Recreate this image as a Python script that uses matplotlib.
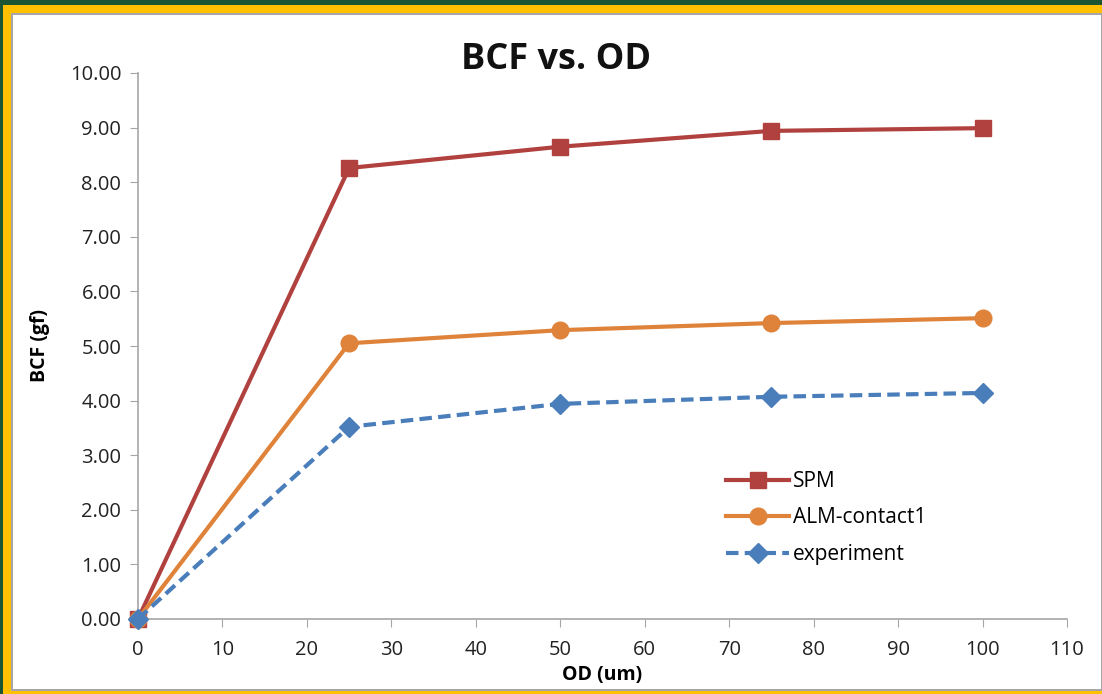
import matplotlib
matplotlib.use('Agg')
import matplotlib.pyplot as plt
from matplotlib.patches import Rectangle
from matplotlib.ticker import FormatStrFormatter

plt.rcParams['font.family'] = ['Open Sans', 'DejaVu Sans']

od = [0, 25, 50, 75, 100]
spm = [0.0, 8.26, 8.65, 8.94, 8.99]
alm = [0.0, 5.05, 5.29, 5.42, 5.51]
experiment = [0.0, 3.52, 3.94, 4.07, 4.14]

fig = plt.figure(figsize=(11.02, 6.94), dpi=100)
W, H = 1102, 694
fig.patch.set_facecolor('#1b5533')
# yellow frame, gray line, white panel
fig.patches.append(Rectangle((3 / W, 0), 1 - 3 / W, 1 - 5 / H, transform=fig.transFigure,
                             facecolor='#ffc000', edgecolor='none', zorder=-3))
fig.patches.append(Rectangle((11 / W, 3 / H), 1 - 11 / W, 1 - 16 / H, transform=fig.transFigure,
                             facecolor='#a6a6a6', edgecolor='none', zorder=-2))
fig.patches.append(Rectangle((13 / W, 5 / H), 1 - 14 / W, 1 - 20 / H, transform=fig.transFigure,
                             facecolor='white', edgecolor='none', zorder=-1))

ax = fig.add_axes([138 / W, 1 - 619 / H, (1067 - 138) / W, (619 - 73) / H])
ax.set_facecolor('none')

ax.plot(od, spm, color='#b0413e', lw=3, marker='s', ms=12, label='SPM', clip_on=False, zorder=3)
ax.plot(od, alm, color='#e0833a', lw=3, marker='o', ms=12, label='ALM-contact1', clip_on=False, zorder=4)
ax.plot(od, experiment, color='#4a7ebb', lw=3, ls=(0, (3, 1.5)), marker='D', ms=10,
        label='experiment', clip_on=False, zorder=5)

ax.set_xlim(0, 110)
ax.set_ylim(0, 10)
ax.set_xticks(range(0, 111, 10))
ax.set_yticks(range(0, 11))
ax.yaxis.set_major_formatter(FormatStrFormatter('%.2f'))
for s in ['top', 'right']:
    ax.spines[s].set_visible(False)
for s in ['left', 'bottom']:
    ax.spines[s].set_color('#a6a6a6')
    ax.spines[s].set_linewidth(1.2)
ax.tick_params(direction='out', length=6, color='#a6a6a6', labelsize=14.5, labelcolor='#222222', pad=6)
ax.tick_params(axis='x', pad=9)

fig.text(556 / W, 1 - 60 / H, 'BCF vs. OD', fontsize=26, fontweight='bold', color='#111111',
         ha='center', va='center')
ax.set_xlabel('OD (um)', fontsize=14, fontweight='bold', labelpad=4)
ax.set_ylabel('BCF (gf)', fontsize=14, fontweight='bold', labelpad=14)

ax.legend(loc='center left', bbox_to_anchor=(0.622, 0.185), frameon=False, fontsize=15,
          handlelength=3.0, handletextpad=0.2, labelspacing=0.75, borderpad=0)

fig.savefig('out.png', dpi=100, facecolor=fig.get_facecolor())
